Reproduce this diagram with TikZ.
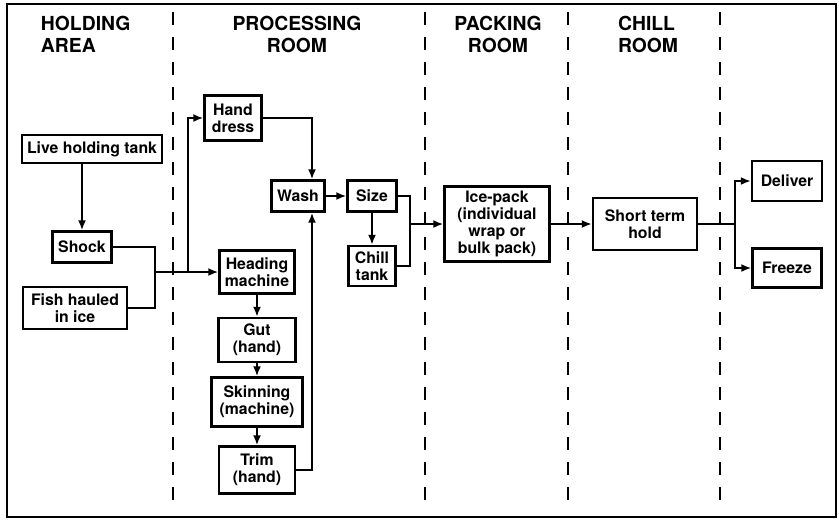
\documentclass[tikz,border=0pt]{standalone}
\usepackage{fontspec}
\setmainfont{TeX Gyre Heros}
\usetikzlibrary{arrows.meta, positioning, calc}
\tikzset{
  every picture/.style={font=\bfseries, line width=1.7pt},
  box/.style={draw, line width=2pt, align=center, inner sep=2pt, font=\bfseries\fontsize{13.5}{14.5}\selectfont},
  arrow/.style={-{Latex[length=3mm, width=2.4mm]}, line width=1.7pt},
  link/.style={line width=1.7pt},
  title/.style={font=\bfseries\fontsize{16.5}{19}\selectfont, inner sep=0pt},
  divider/.style={line width=2pt, dash pattern=on 0.39cm off 0.36cm},
}
\begin{document}
\begin{tikzpicture}[x=0.03cm, y=-0.03cm]
  \useasboundingbox (0,0) rectangle (839,519);
  \draw[line width=1.8pt] (7,4) rectangle (836,517);
  % room dividers
  \draw[divider] (173,12) -- (173,512);
  \draw[divider] (425,12) -- (425,512);
  \draw[divider] (568,12) -- (568,512);
  \draw[divider] (720,12) -- (720,512);
  % room titles
  \node[title, anchor=north west, align=left] (thold) at (40,15) {HOLDING\\AREA};
  \node[title, anchor=north, align=center] (tproc) at (297,15) {PROCESSING\\ROOM};
  \node[title, anchor=north, align=center] (tpack) at (498,15) {PACKING\\ROOM};
  \node[title, anchor=north west, align=left] (tchill) at (617,15) {CHILL\\ROOM};
  % holding area
  \node[box, minimum width=4.2cm, minimum height=0.84cm] (live) at (92,149) {Live holding tank};
  \node[box, minimum width=1.77cm, minimum height=0.93cm] (shock) at (82,247) {Shock};
  \node[box, minimum width=3.12cm, minimum height=1.26cm] (fish) at (75,308) {Fish hauled\\in ice};
  % processing room
  \node[box, minimum width=1.71cm, minimum height=1.35cm] (hand) at (233,118) {Hand\\dress};
  \node[box, minimum width=2.25cm, minimum height=1.29cm] (heading) at (257,272) {Heading\\machine};
  \node[box, minimum width=2.31cm, minimum height=1.32cm] (gut) at (257,340) {Gut\\(hand)};
  \node[box, minimum width=2.73cm, minimum height=1.47cm] (skin) at (257,402) {Skinning\\(machine)};
  \node[box, minimum width=2.28cm, minimum height=1.41cm] (trim) at (257,470) {Trim\\(hand)};
  \node[box, minimum width=1.59cm, minimum height=0.93cm] (wash) at (298,196) {Wash};
  \node[box, minimum width=1.47cm, minimum height=0.93cm] (size) at (372,196) {Size};
  \node[box, minimum width=1.41cm, minimum height=1.2cm] (chill) at (372,266) {Chill\\tank};
  % packing, chill room and out
  \node[box, minimum width=3.15cm, minimum height=2.25cm] (icepack) at (497,224) {Ice-pack\\(individual\\wrap or\\bulk pack)};
  \node[box, minimum width=3.12cm, minimum height=1.56cm] (short) at (645,224) {Short term\\hold};
  \node[box, minimum width=2.1cm, minimum height=1.2cm] (deliver) at (787,181) {Deliver};
  \node[box, minimum width=2.07cm, minimum height=1.17cm] (freeze) at (787,268) {Freeze};
  % junctions
  \coordinate (jin) at (155,272);
  \coordinate (jsplit) at (188,272);
  \coordinate (jsize) at (410,224);
  \coordinate (jout) at (735,224);
  % flow
  \draw[arrow] (live.south -| shock) -- (shock);
  \draw[link] (shock.east) -| (jin);
  \draw[link] (fish.east) -| (jin);
  \draw[arrow] (jin) -- (heading.west);
  \draw[arrow] (jsplit) |- (hand.west);
  \draw[arrow] (heading) -- (gut);
  \draw[arrow] (gut) -- (skin);
  \draw[arrow] (skin) -- (trim);
  \draw[arrow] (hand.east) -| ([xshift=0.42cm]wash.north);
  \draw[arrow] (trim.east) -| ([xshift=0.42cm]wash.south);
  \draw[arrow] (wash) -- (size);
  \draw[arrow] (size) -- (chill);
  \draw[link] (size.east) -| (jsize);
  \draw[link] (chill.east) -| (jsize);
  \draw[arrow] (jsize) -- (icepack.west);
  \draw[arrow] (icepack) -- (short);
  \draw[link] (short.east) -- (jout);
  \draw[arrow] (jout) |- (deliver.west);
  \draw[arrow] (jout) |- (freeze.west);
\end{tikzpicture}
\end{document}
